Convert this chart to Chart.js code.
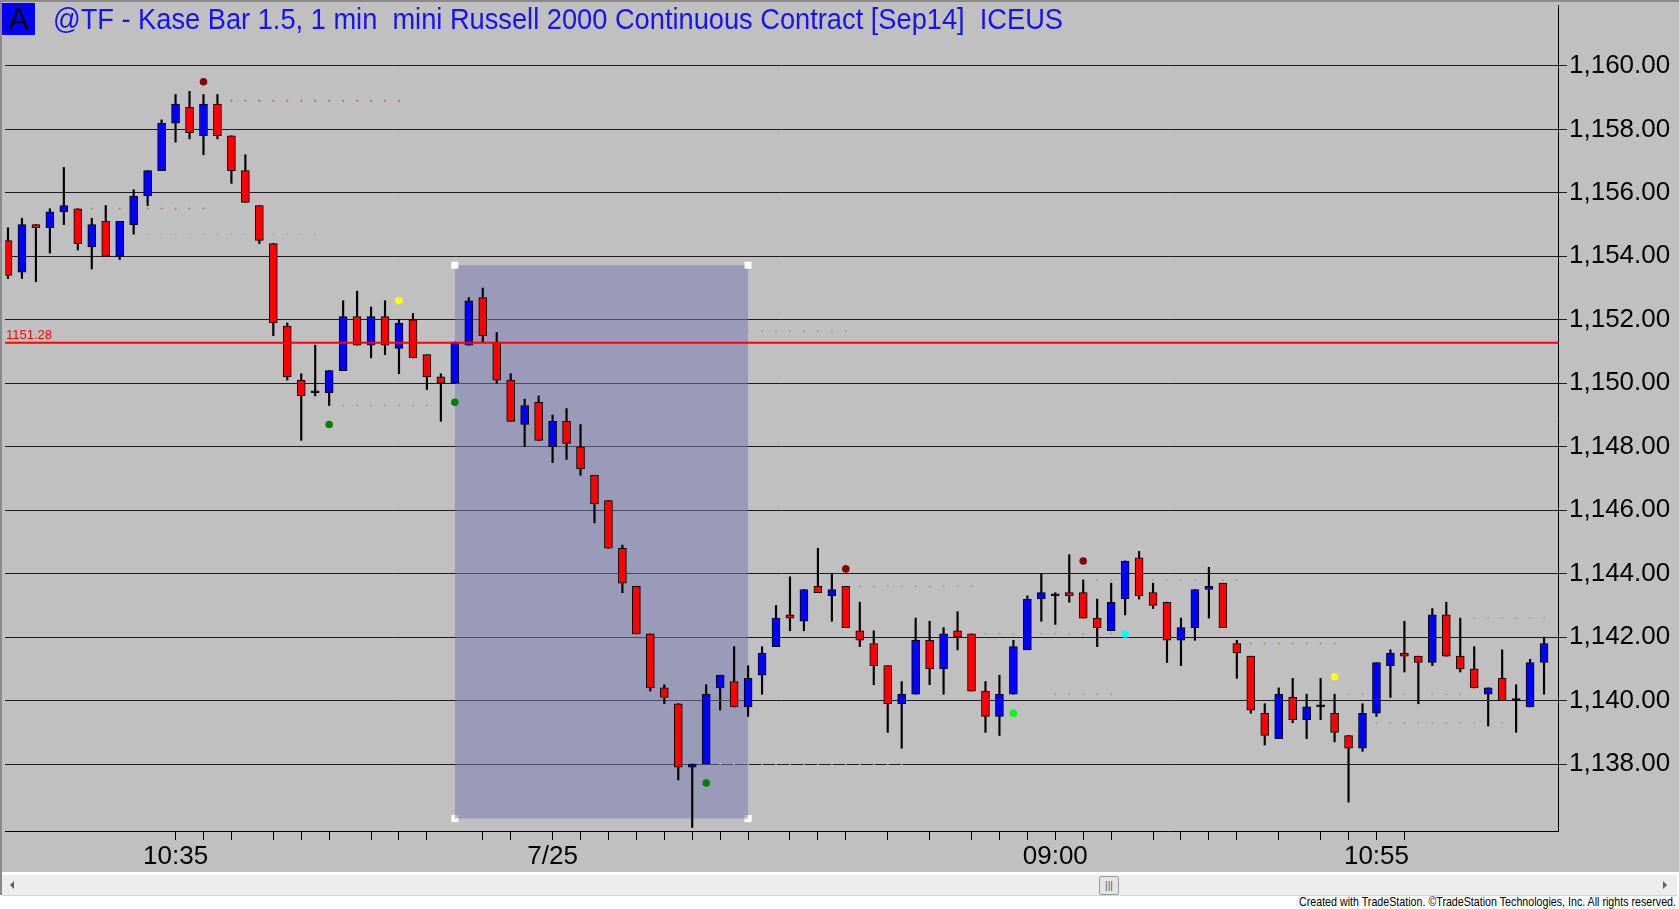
<!DOCTYPE html>
<html>
<head>
<meta charset="utf-8">
<title>@TF - Kase Bar 1.5, 1 min</title>
<script src="https://cdn.jsdelivr.net/npm/chart.js@4.4.1/dist/chart.umd.min.js"></script>
<style>
  html, body { margin: 0; padding: 0; background: #fff; }
  #wrap { position: relative; width: 1679px; height: 909px; overflow: hidden; background: #fff; }
  #pane { position: absolute; left: 0; top: 0; width: 1679px; height: 872px; background: #c0c0c0; }
  #frameTop { position: absolute; left: 0; top: 0; width: 1679px; height: 2px; background: #8a8a8a; }
  #frameLeft { position: absolute; left: 0; top: 0; width: 2px; height: 895px; background: #8a8a8a; }
  #tag { position: absolute; left: 2px; top: 3px; width: 33px; height: 32px; background: #0000ff; color: #000;
         font: 31px "Liberation Sans", Arial, sans-serif; line-height: 33px; text-align: center; }
  #title { position: absolute; left: 53px; top: 2px; color: #1414ee; font-size: 30px; line-height: 34px;
           white-space: pre; transform-origin: 0 0; }
  #scroll { position: absolute; left: 2px; top: 874px; width: 1675px; height: 20px; background: #ededed;
            border-top: 1px solid #f8f8f8; border-bottom: 1px solid #d4d4d4; }
  #thumb { position: absolute; left: 1097px; top: 1px; width: 18px; height: 17px; background: #e4e4e4;
           border: 1px solid #9a9a9a; border-radius: 2px; font: 10px sans-serif; color: #555; text-align: center; line-height: 17px; }
  .arrow { position: absolute; top: 6px; width: 0; height: 0; border-top: 4px solid transparent; border-bottom: 4px solid transparent; }
  #arrowL { left: 8px; border-right: 4px solid #606060; }
  #arrowR { right: 10px; border-left: 4px solid #606060; }
  #foot { position: absolute; left: 1299px; top: 895px; font-size: 13px; line-height: 14px; color: #000;
          white-space: nowrap; transform-origin: 0 0; }
</style>
</head>
<body>
<div id="wrap">
  <div id="pane"><canvas id="chart" width="1679" height="872"></canvas></div>
  <div id="frameTop"></div>
  <div id="frameLeft"></div>
  <div id="tag">A</div>
  <div id="title">@TF - Kase Bar 1.5, 1 min  mini Russell 2000 Continuous Contract [Sep14]  ICEUS</div>
  <div id="scroll">
    <div id="arrowL" class="arrow"></div>
    <div id="thumb">|||</div>
    <div id="arrowR" class="arrow"></div>
  </div>
  <div id="foot">Created with TradeStation. ©TradeStation Technologies, Inc. All rights reserved.</div>
</div>
<script>
// Kase bars, one value per bar (bar 0 is the leftmost, partly cut off)
const openP = [
  1154.5, 1153.5, 1155.0, 1154.9, 1155.4, 1155.5, 1154.3, 1155.1, 1154.0, 1155.0,
  1155.9, 1156.7, 1158.2, 1158.7, 1157.8, 1158.8, 1157.8, 1156.7, 1155.6, 1154.4,
  1151.8, 1150.1, 1149.7, 1149.7, 1150.4, 1152.1, 1151.2, 1152.1, 1151.1, 1152.0,
  1150.9, 1150.2, 1150.0, 1151.2, 1152.7, 1151.3, 1150.1, 1148.7, 1149.4, 1148.0,
  1148.8, 1148.0, 1147.1, 1146.3, 1144.8, 1143.6, 1142.1, 1140.4, 1139.9, 1137.9,
  1138.0, 1140.4, 1140.6, 1139.8, 1140.8, 1141.7, 1142.7, 1142.5, 1143.6, 1143.3,
  1143.6, 1142.2, 1141.8, 1141.1, 1139.9, 1140.2, 1141.9, 1141.0, 1142.2, 1142.1,
  1140.3, 1139.5, 1140.2, 1141.6, 1143.2, 1143.3, 1143.4, 1143.4, 1142.6, 1142.2,
  1143.2, 1144.5, 1143.4, 1143.1, 1141.9, 1142.3, 1143.5, 1143.7, 1141.8, 1141.4,
  1139.6, 1138.8, 1140.1, 1139.4, 1139.8, 1139.6, 1138.9, 1138.5, 1139.6, 1141.1,
  1141.5, 1141.4, 1141.2, 1142.7, 1141.4, 1141.0, 1140.2, 1140.7, 1140.0, 1139.8,
  1141.2
];
const highP = [
  1154.9, 1155.2, 1155.0, 1155.5, 1156.8, 1155.5, 1155.2, 1155.6, 1155.1, 1156.1,
  1156.7, 1158.3, 1159.1, 1159.2, 1159.1, 1159.1, 1157.8, 1157.2, 1155.6, 1154.4,
  1151.9, 1150.3, 1151.2, 1150.4, 1152.6, 1152.9, 1152.4, 1152.6, 1152.0, 1152.2,
  1150.9, 1150.3, 1151.3, 1152.7, 1153.0, 1151.6, 1150.3, 1149.5, 1149.6, 1149.0,
  1149.2, 1148.7, 1147.1, 1146.3, 1144.9, 1143.6, 1142.1, 1140.5, 1139.9, 1138.0,
  1140.5, 1140.8, 1141.7, 1141.1, 1141.7, 1143.0, 1143.9, 1143.5, 1144.8, 1144.0,
  1143.6, 1143.1, 1142.2, 1141.1, 1140.6, 1142.6, 1142.5, 1142.3, 1142.8, 1142.1,
  1140.6, 1140.8, 1141.9, 1143.3, 1144.0, 1143.4, 1144.6, 1143.8, 1143.2, 1143.7,
  1144.4, 1144.7, 1143.7, 1143.1, 1142.6, 1143.5, 1144.2, 1143.7, 1141.9, 1141.4,
  1139.9, 1140.4, 1140.7, 1140.2, 1140.7, 1140.2, 1138.9, 1139.9, 1141.2, 1141.6,
  1142.5, 1141.4, 1142.9, 1143.1, 1142.6, 1141.7, 1140.4, 1141.6, 1140.5, 1141.3,
  1142.0
];
const lowP = [
  1153.3, 1153.3, 1153.2, 1154.1, 1155.0, 1154.2, 1153.6, 1154.0, 1153.9, 1154.7,
  1155.6, 1156.7, 1157.6, 1157.7, 1157.2, 1157.7, 1156.3, 1155.7, 1154.4, 1151.5,
  1150.1, 1148.2, 1149.6, 1149.3, 1150.4, 1151.2, 1150.8, 1150.9, 1150.3, 1150.8,
  1149.8, 1148.8, 1150.0, 1151.2, 1151.3, 1150.0, 1148.8, 1148.0, 1148.2, 1147.5,
  1147.6, 1147.1, 1145.6, 1144.8, 1143.4, 1142.1, 1140.3, 1139.9, 1137.5, 1136.0,
  1138.0, 1139.7, 1139.8, 1139.5, 1140.2, 1141.7, 1142.2, 1142.2, 1143.4, 1142.5,
  1142.3, 1141.7, 1140.5, 1139.0, 1138.5, 1140.2, 1140.5, 1140.2, 1141.6, 1140.3,
  1139.0, 1138.9, 1140.2, 1141.6, 1142.5, 1142.4, 1143.1, 1142.6, 1141.7, 1142.2,
  1142.7, 1143.2, 1142.9, 1141.2, 1141.1, 1141.9, 1142.6, 1142.3, 1140.7, 1139.6,
  1138.6, 1138.8, 1139.3, 1138.8, 1139.4, 1138.7, 1136.8, 1138.4, 1139.5, 1140.1,
  1140.9, 1139.9, 1141.1, 1141.4, 1140.9, 1140.4, 1139.2, 1140.0, 1139.0, 1139.8,
  1140.2
];
const closeP = [
  1153.4, 1155.0, 1154.9, 1155.4, 1155.6, 1154.4, 1155.0, 1154.0, 1155.1, 1155.9,
  1156.7, 1158.2, 1158.8, 1157.9, 1158.8, 1157.8, 1156.7, 1155.7, 1154.5, 1151.9,
  1150.2, 1149.6, 1149.7, 1150.4, 1152.1, 1151.2, 1152.1, 1151.2, 1151.9, 1150.8,
  1150.2, 1150.0, 1151.3, 1152.6, 1151.5, 1150.1, 1148.8, 1149.3, 1148.2, 1148.8,
  1148.1, 1147.3, 1146.2, 1144.8, 1143.7, 1142.1, 1140.4, 1140.1, 1137.9, 1138.0,
  1140.2, 1140.8, 1139.8, 1140.7, 1141.5, 1142.6, 1142.6, 1143.5, 1143.4, 1143.5,
  1142.3, 1141.9, 1141.1, 1139.9, 1140.2, 1141.9, 1141.0, 1142.1, 1142.0, 1140.3,
  1139.5, 1140.2, 1141.7, 1143.2, 1143.4, 1143.3, 1143.3, 1142.6, 1142.3, 1143.1,
  1144.4, 1143.3, 1143.0, 1141.9, 1142.3, 1143.5, 1143.6, 1142.3, 1141.5, 1139.7,
  1138.9, 1140.2, 1139.4, 1139.8, 1139.8, 1139.0, 1138.5, 1139.6, 1141.2, 1141.5,
  1141.4, 1141.2, 1142.7, 1141.4, 1141.0, 1140.4, 1140.4, 1140.0, 1140.0, 1141.2,
  1141.8
];

// price axis
const priceTicks = [1138, 1140, 1142, 1144, 1146, 1148, 1150, 1152, 1154, 1156, 1158, 1160];
const priceMin = 1135.89;
const priceMax = 1161.92;

// time axis: tick marks under these bars, labels under some of them
const timeTickIndex = [12, 14, 16, 19, 21, 23, 26, 28, 30, 34, 36, 39, 41, 43, 45, 47, 49, 51, 53, 56,
  58, 60, 63, 66, 69, 71, 73, 75, 77, 79, 82, 84, 86, 88, 91, 94, 96, 98, 100];
const timeLabelIndex = [12, 39, 75, 98];
const timeLabelText = ['10:35', '7/25', '09:00', '10:55'];

// horizontal price marker
const markerPrice = 1151.28;

// selection box (bar range and price range)
const boxFrom = 32;
const boxTo = 53;
const boxTop = 1153.72;
const boxBottom = 1136.28;

// signal dots
const signalIndex = [14, 23, 28, 32, 50, 60, 72, 77, 80, 95];
const signalPrice = [1159.5, 1148.7, 1152.6, 1149.4, 1137.4, 1144.15, 1139.6, 1144.4, 1142.1, 1140.75];

// faint dotted levels
const levelFrom = [16, 6, 10, 23, 35, 51, 61, 70, 78, 88, 75, 96, 98, 105];
const levelTo = [28, 14, 22, 30, 60, 64, 69, 80, 88, 95, 79, 104, 107, 110];
const levelPrice = [1158.9, 1155.5, 1154.7, 1149.3, 1151.65, 1138.0, 1143.6, 1142.1, 1143.8, 1141.8,
  1140.2, 1140.2, 1139.3, 1142.6];

// ---- styles ----
const signalColors = ['#8b0000', '#008000', '#ffff00', '#008000', '#008000', '#8b0000', '#00ff00', '#8b0000', '#00ffff', '#ffff00'];
const levelColors = ['#c46a6a', '#b48a50', '#a9b3a9', '#a2a2a2', '#a2a2a2', '#9db29d', '#a2a2a2', '#a2a2a2',
  '#a2a2a2', '#b4906e', '#a2a2a2', '#a2a2a2', '#a2a2a2', '#a2a2a2'];

function hasFont(name) {
  const c = document.createElement('canvas').getContext('2d');
  c.font = '40px monospace';
  const a = c.measureText('1,160.00 mwiMW').width;
  c.font = '40px "' + name + '", monospace';
  const b = c.measureText('1,160.00 mwiMW').width;
  return a !== b;
}
const narrow = hasFont('Liberation Sans Narrow');
const family = narrow ? '"Liberation Sans Narrow", "Liberation Sans", Arial, sans-serif' : '"Liberation Sans", Arial, sans-serif';
const axisSize = narrow ? 32 : 26;

// fit the html texts to the widths they have in the picture
function fitText(id, width) {
  const el = document.getElementById(id);
  el.style.fontFamily = family;
  const c = document.createElement('canvas').getContext('2d');
  c.font = getComputedStyle(el).fontSize + ' ' + family;
  const w = c.measureText(el.textContent).width;
  el.style.transform = 'scaleX(' + (width / w) + ')';
}
fitText('title', 1010);
fitText('foot', 378);

// x positions: bar i sits at value i, plot edges at -0.214 and 111.0
const xMin = -0.214;
const xMax = 111.0;

const bodies = openP.map((o, i) => ({ x: i, y: [o, closeP[i]] }));
const wicks = lowP.map((l, i) => ({ x: i, y: [l, highP[i]] }));
const signals = signalIndex.map((k, i) => ({ x: k, y: signalPrice[i] }));

const levelSets = levelPrice.map((p, j) => {
  const pts = [];
  for (let i = levelFrom[j]; i <= levelTo[j]; i++) pts.push({ x: i, y: p });
  return {
    type: 'line', data: pts, showLine: false, pointRadius: 1.1, pointBorderWidth: 0,
    pointBackgroundColor: levelColors[j], order: 4
  };
});

const markerLabel = {
  id: 'markerLabel',
  afterDatasetsDraw(chart) {
    const { ctx, chartArea, scales } = chart;
    const y = scales.y.getPixelForValue(markerPrice);
    ctx.save();
    ctx.font = (narrow ? 15 : 13) + 'px ' + family;
    ctx.fillStyle = '#ff0000';
    ctx.textBaseline = 'alphabetic';
    ctx.fillText(markerPrice.toFixed(2), chartArea.left + 1, y - 4);
    ctx.restore();
  }
};

function fmtPrice(v) {
  const s = Number(v).toFixed(2);
  return s.slice(0, 1) + ',' + s.slice(1);
}

new Chart(document.getElementById('chart'), {
  type: 'bar',
  data: {
    datasets: [
      {
        label: 'signals', type: 'line', data: signals, showLine: false,
        pointRadius: 3.8, pointBorderWidth: 0, pointBackgroundColor: signalColors, order: 0
      },
      {
        label: 'marker', type: 'line',
        data: [{ x: xMin, y: markerPrice }, { x: xMax, y: markerPrice }],
        borderColor: '#ff0000', borderWidth: 2, pointRadius: 0, order: 1
      },
      {
        label: 'body', data: bodies,
        backgroundColor: (c) => {
          const i = c.dataIndex;
          if (closeP[i] > openP[i]) return '#0000ff';
          if (closeP[i] < openP[i]) return '#ff0000';
          return '#000000';
        },
        borderColor: '#000000', borderWidth: 1, borderSkipped: false,
        barThickness: 8, minBarLength: 2, grouped: false, order: 2
      },
      {
        label: 'wick', data: wicks, backgroundColor: '#000000',
        barThickness: 1.5, grouped: false, order: 3
      },
      ...levelSets,
      {
        label: 'box', type: 'line',
        data: [{ x: boxFrom, y: boxTop }, { x: boxTo, y: boxTop }],
        fill: { value: boxBottom }, backgroundColor: 'rgba(118,118,178,0.52)',
        borderWidth: 0, borderColor: 'rgba(0,0,0,0)',
        pointRadius: 5, pointStyle: 'rect', pointBackgroundColor: '#ffffff', pointBorderWidth: 0,
        order: 5
      },
      {
        label: 'box corners', type: 'line',
        data: [{ x: boxFrom, y: boxBottom }, { x: boxTo, y: boxBottom }],
        showLine: false, pointRadius: 5, pointStyle: 'rect',
        pointBackgroundColor: '#ffffff', pointBorderWidth: 0, order: 5
      }
    ]
  },
  options: {
    responsive: false,
    animation: false,
    devicePixelRatio: 1,
    layout: { padding: { left: 2, top: 2, right: 0, bottom: 0 } },
    plugins: { legend: { display: false }, tooltip: { enabled: false }, title: { display: false } },
    scales: {
      x: {
        type: 'linear', min: xMin, max: xMax, offset: false,
        afterBuildTicks: (axis) => { axis.ticks = timeTickIndex.map((v) => ({ value: v })); },
        afterFit: (s) => { s.height = 41; s.paddingLeft = 0; s.paddingRight = 0; },
        ticks: {
          autoSkip: false, maxRotation: 0, minRotation: 0, color: '#000', padding: 1,
          font: { family: family, size: axisSize },
          callback: (v) => {
            const k = timeLabelIndex.indexOf(v);
            return k >= 0 ? timeLabelText[k] : '';
          }
        },
        grid: { drawOnChartArea: false, drawTicks: true, tickLength: 9, color: '#000', lineWidth: 1, offset: false },
        border: { display: true, color: '#000', width: 1 }
      },
      y: {
        position: 'right', min: priceMin, max: priceMax,
        afterBuildTicks: (axis) => { axis.ticks = priceTicks.map((v) => ({ value: v })); },
        afterFit: (s) => { s.width = 121; s.paddingTop = 0; s.paddingBottom = 0; },
        ticks: {
          color: '#000', padding: 2,
          font: { family: family, size: axisSize },
          callback: (v) => fmtPrice(v)
        },
        grid: { color: '#1c1c1c', lineWidth: 1, drawTicks: true, tickLength: 9 },
        border: { display: true, color: '#000', width: 1 }
      }
    }
  },
  plugins: [markerLabel]
});
</script>
</body>
</html>
